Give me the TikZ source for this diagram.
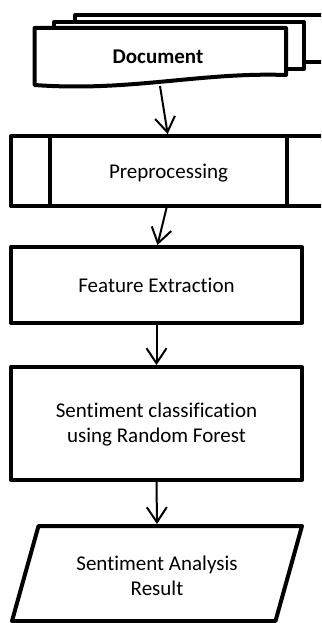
\documentclass[tikz,border=0pt]{standalone}
\usepackage{fontspec}
\setmainfont[Ligatures=NoCommon]{Carlito}
\usetikzlibrary{arrows.meta}
\begin{document}
\begin{tikzpicture}[x=1pt,y=-1pt,
  thickline/.style={draw, line width=4pt, fill=white, line join=round},
  flowbox/.style={thickline, rectangle, inner sep=0pt, outer sep=0pt},
  lbl/.style={font=\fontsize{21}{25.5}\selectfont, align=center, inner sep=0pt},
  arr/.style={line width=2pt, shorten >=2pt, -{Straight Barb[length=15pt,width=20pt]}}]
\clip (0,0) rectangle (321,623);
% Document (multi-document shape)
\path[thickline] (75,15.5) rectangle (345,62);
\path[thickline] (54,22) rectangle (304,69);
\path[thickline] (34.5,28) -- (286,28) -- (286,75)
  .. controls (200,72) and (130,92) .. (34.5,85) -- cycle;
\node[lbl, font=\fontsize{21}{25.5}\selectfont\bfseries] (doc) at (158,57) {Document};
\coordinate (docb) at (160,86);
% Preprocessing (predefined process)
\node[flowbox, minimum width=319pt, minimum height=70pt] (pre) at (170.5,171) {};
\draw[line width=4pt] (50,136) -- (50,206) (287,136) -- (287,206);
\node[lbl] (pretxt) at (168.5,173) {Preprocessing};
% Feature extraction
\node[flowbox, lbl, minimum width=291pt, minimum height=76pt] (fe) at (156.5,285) {Feature Extraction};
% Classification
\node[flowbox, minimum width=291pt, minimum height=113pt] (sc) at (156.5,423.5) {};
\node[lbl] (sctxt) at (156.5,424.5) {Sentiment classification\\using Random Forest};
% Result (parallelogram)
\path[thickline] (38.5,526) -- (302,526) -- (275.5,621) -- (12,621) -- cycle;
\node[lbl] (res) at (157,576) {Sentiment Analysis\\Result};
\coordinate (restop) at (157,526);
% Connectors
\draw[arr] (docb) -- ([xshift=-2.5pt]pre.north);
\draw[arr] ([xshift=-3.5pt]pre.south) -- ([xshift=0.5pt]fe.north);
\draw[arr] (fe.south) -- (sc.north);
\draw[arr] (sc.south) -- (restop);
\end{tikzpicture}
\end{document}
